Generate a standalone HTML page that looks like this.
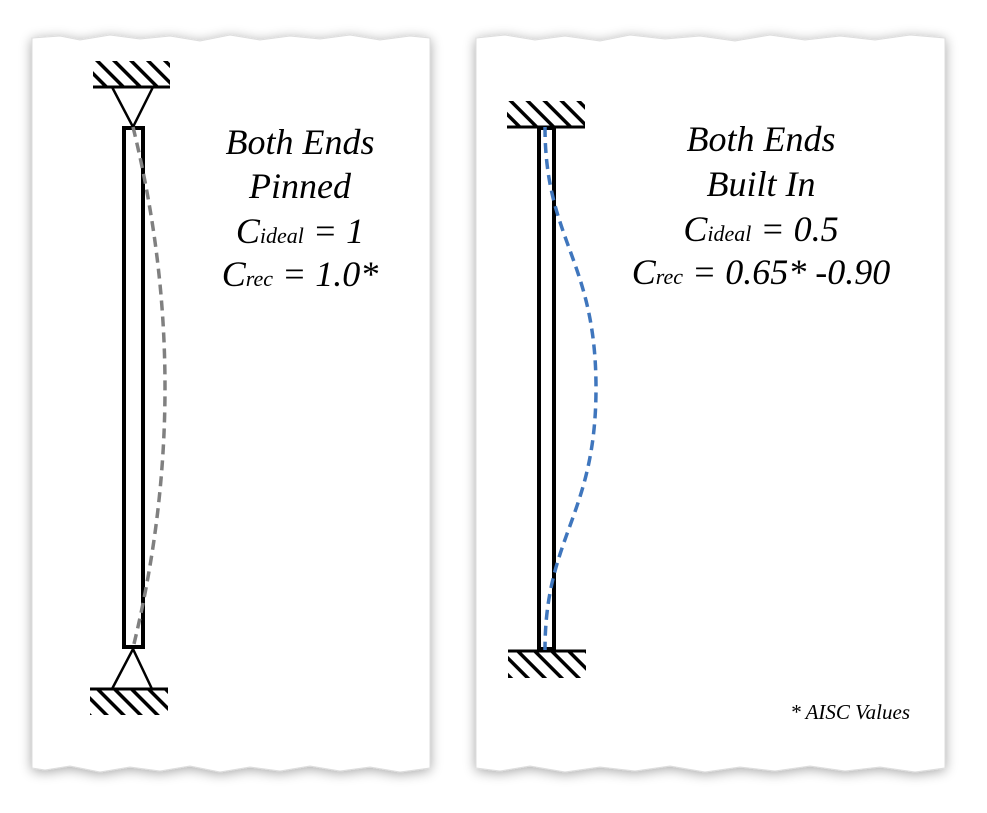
<!DOCTYPE html>
<html><head><meta charset="utf-8"><style>
html,body{margin:0;padding:0;background:#fff;}
svg{display:block;}
text{font-family:"Liberation Serif",serif;font-style:italic;fill:#000;}
</style></head><body>
<svg width="987" height="813" viewBox="0 0 987 813" xmlns="http://www.w3.org/2000/svg">
<defs>
<filter id="sh" x="-10%" y="-10%" width="120%" height="120%">
<feGaussianBlur in="SourceAlpha" stdDeviation="6"/>
<feOffset dx="0" dy="2"/>
<feComponentTransfer><feFuncA type="linear" slope="0.35"/></feComponentTransfer>
<feMerge><feMergeNode/><feMergeNode in="SourceGraphic"/></feMerge>
</filter>
<pattern id="hatch" patternUnits="userSpaceOnUse" width="12" height="12" patternTransform="rotate(-45)">
<rect width="12" height="12" fill="#fff"/>
<rect x="0" y="0" width="3.5" height="12" fill="#000"/>
</pattern>
</defs>
<path filter="url(#sh)" fill="#fff" stroke="#ddd" stroke-width="1" d="M32,38 L60,36 L80,40 L110,35 L140,39 L170,36 L200,41 L230,35 L260,40 L290,36 L320,39 L350,35 L380,40 L410,36 L430,38 L430,768 L400,772 L370,767 L340,771 L310,766 L280,771 L250,767 L220,772 L190,766 L160,771 L130,767 L100,772 L70,766 L45,770 L32,768 Z"/>
<path filter="url(#sh)" fill="#fff" stroke="#ddd" stroke-width="1" d="M476,38 L505,35 L535,40 L565,36 L600,41 L630,35 L665,39 L700,36 L735,41 L770,35 L805,40 L840,36 L875,40 L910,35 L945,38 L945,768 L915,772 L880,767 L845,771 L810,766 L775,771 L740,767 L705,772 L670,766 L635,771 L600,767 L565,772 L530,766 L500,771 L476,768 Z"/>

<!-- left -->
<rect x="93" y="61" width="77" height="26" fill="url(#hatch)"/>
<line x1="93" y1="87" x2="170" y2="87" stroke="#000" stroke-width="3"/>
<path d="M112,87 L133,127 L153,87" fill="none" stroke="#000" stroke-width="2.5"/>
<rect x="124" y="128" width="19" height="519" fill="#fff" stroke="#000" stroke-width="4"/>
<path d="M112,689 L133,649 L152,689" fill="none" stroke="#000" stroke-width="2.5"/>
<rect x="90" y="689" width="78" height="26" fill="url(#hatch)"/>
<line x1="90" y1="689" x2="168" y2="689" stroke="#000" stroke-width="3"/>
<path d="M133,127 Q197,387 133,648" fill="none" stroke="#808080" stroke-width="3.5" stroke-dasharray="10,6"/>

<text x="300" y="154" font-size="36" text-anchor="middle">Both Ends</text>
<text x="300" y="198" font-size="36" text-anchor="middle">Pinned</text>
<text x="300" y="243" font-size="36" text-anchor="middle">C<tspan font-size="22">ideal</tspan> = 1</text>
<text x="300" y="286" font-size="36" text-anchor="middle">C<tspan font-size="22">rec</tspan> = 1.0*</text>

<!-- right -->
<rect x="507" y="101" width="78" height="26" fill="url(#hatch)"/>
<line x1="507" y1="127" x2="585" y2="127" stroke="#000" stroke-width="3"/>
<rect x="539" y="128" width="15" height="521" fill="#fff" stroke="#000" stroke-width="4"/>
<rect x="508" y="651" width="78" height="27" fill="url(#hatch)"/>
<line x1="508" y1="651" x2="586" y2="651" stroke="#000" stroke-width="3"/>
<path d="M545,127 C545,240 596,260 596,388 C596,516 545,536 545,650" fill="none" stroke="#3f76bd" stroke-width="3.5" stroke-dasharray="10,6"/>

<text x="761" y="151" font-size="36" text-anchor="middle">Both Ends</text>
<text x="761" y="196" font-size="36" text-anchor="middle">Built In</text>
<text x="761" y="241" font-size="36" text-anchor="middle">C<tspan font-size="22">ideal</tspan> = 0.5</text>
<text x="761" y="284" font-size="36" text-anchor="middle">C<tspan font-size="22">rec</tspan> = 0.65* -0.90</text>
<text x="910" y="719" font-size="21" text-anchor="end">* AISC Values</text>
</svg>
</body></html>
